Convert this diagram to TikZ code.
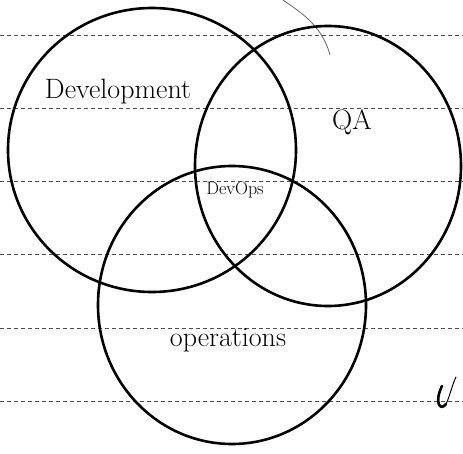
\documentclass[tikz,border=0pt]{standalone}
\usetikzlibrary{shapes.geometric}
\begin{document}
\begin{tikzpicture}[x=1pt,y=-1pt,
  ring/.style={draw=black,line width=2.6pt},
  ruled/.style={draw=black!70,line width=1pt,dash pattern=on 4pt off 3pt},
  lbl/.style={font=\fontsize{28}{32}\selectfont},
  small/.style={font=\fontsize{18}{20}\selectfont}]
\useasboundingbox (0,0) rectangle (463,454);
\fill[white] (0,0) rectangle (463,454);
% ruled paper lines
\foreach \yy in {36,109,182,255,328,401}
  \draw[ruled] (0,\yy) -- (463,\yy);
% stray pencil stroke
\draw[black!60,line width=0.8pt] (283,0) .. controls (300,12) and (322,25) .. (330,55);
% circles
\node[ring,ellipse,minimum width=288,minimum height=284,inner sep=0] (dev) at (152,150) {};
\node[ring,ellipse,minimum width=266,minimum height=280,inner sep=0] (qa) at (328,166) {};
\node[ring,ellipse,minimum width=268,minimum height=278,inner sep=0] (ops) at (232,305) {};
% labels
\node[lbl] (tdev) at (118,92) {Development};
\node[lbl] (tqa) at (352,122) {QA};
\node[small] (tdo) at (235,190) {DevOps};
\node[lbl] (tops) at (228,340) {operations};
% stray mark
\draw[line width=2.6pt,line cap=round] (442,386) .. controls (434,402) and (440,412) .. (446,404);
\draw[line width=1pt,line cap=round] (446,404) .. controls (450,396) and (452,385) .. (456,377);
\end{tikzpicture}
\end{document}
